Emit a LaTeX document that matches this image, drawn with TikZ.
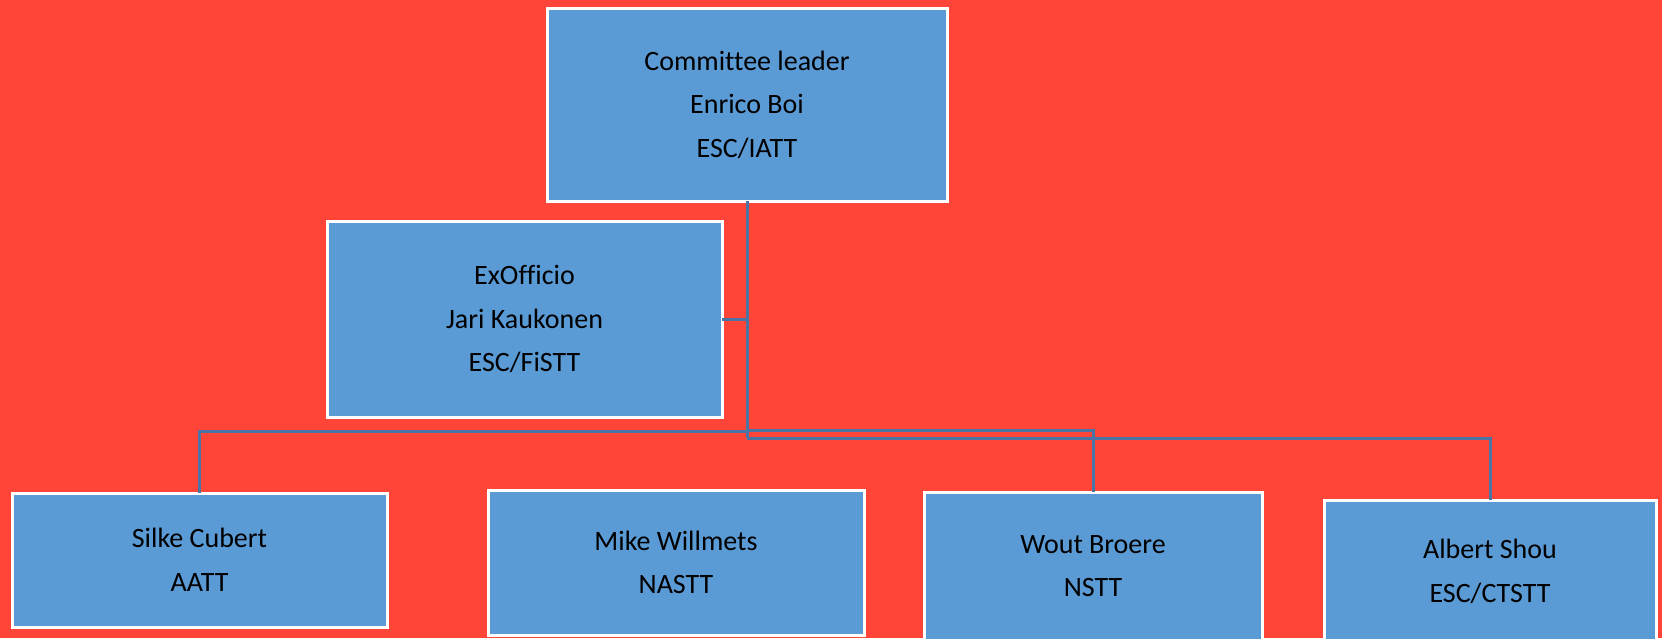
\documentclass[tikz,border=0pt]{standalone}
\usepackage{fontspec}
\setmainfont[Ligatures=NoCommon]{Carlito}
\definecolor{bgred}{HTML}{FF4438}
\definecolor{boxblue}{HTML}{5B9BD5}
\definecolor{connblue}{HTML}{4A74A4}
\begin{document}
\begin{tikzpicture}[x=1pt,y=-1pt,
  orgbox/.style={draw=white, line width=3pt, fill=boxblue, outer sep=0pt,
    inner sep=0pt, align=center, text=black,
    font=\fontsize{28}{43.5}\selectfont},
  conn/.style={draw=connblue, line width=3pt}]
\useasboundingbox (0,0) rectangle (1662,638);
\clip (0,0) rectangle (1662,638);
\fill[bgred] (0,0) rectangle (1662,638);
% nodes
\node[orgbox, minimum width=400pt, minimum height=193pt] (top) at (747,104.5)
  {Committee leader\\Enrico Boi\\ESC/IATT};
\node[orgbox, minimum width=395pt, minimum height=196pt] (exo) at (524.5,319)
  {ExOfficio\\Jari Kaukonen\\ESC/FiSTT};
\coordinate (jS) at (747,431);
\coordinate (jW) at (747,430);
\coordinate (jA) at (747,438);
\node[orgbox, minimum width=375pt, minimum height=134pt] (silke) at (199.5,560)
  {Silke Cubert\\AATT};
\node[orgbox, minimum width=376pt, minimum height=145pt] (mike) at (676,562.5)
  {Mike Willmets\\NASTT};
\node[orgbox, minimum width=338pt, minimum height=148pt] (wout) at (1093,566)
  {Wout Broere\\NSTT};
\node[orgbox, minimum width=332pt, minimum height=143pt] (albert) at (1490,571.5)
  {Albert Shou\\ESC/CTSTT};
\draw[conn] (exo.east) -- (exo.east -| top.south);
\draw[conn] (top.south) -- (jA);
\draw[conn] (jS) -| (silke.north);
\draw[conn] (jW) -| (wout.north);
\draw[conn] (jA) -| (albert.north);
\end{tikzpicture}
\end{document}
